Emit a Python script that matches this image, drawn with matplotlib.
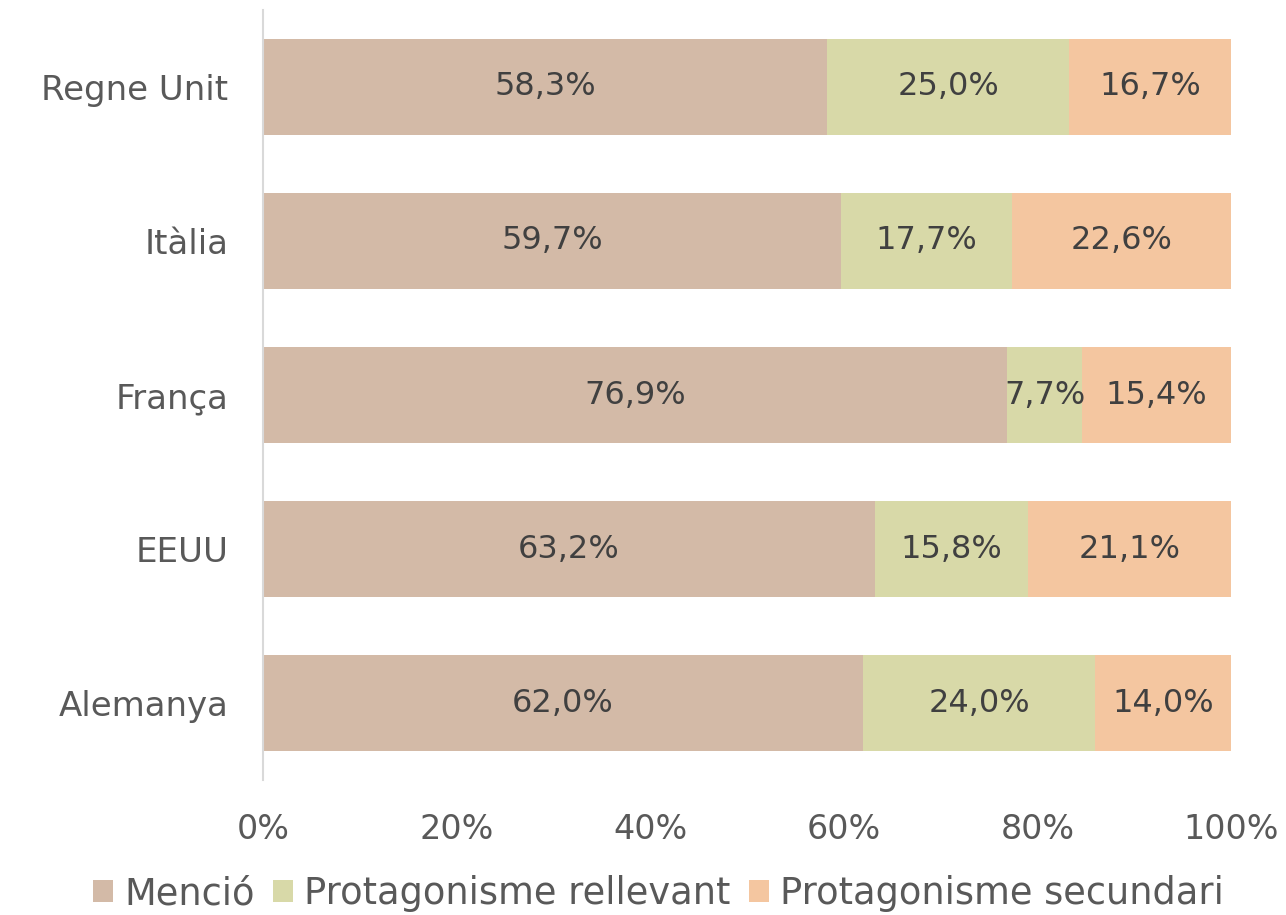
import matplotlib
matplotlib.use("Agg")
import matplotlib.pyplot as plt
from matplotlib.ticker import FuncFormatter

categories = ["Regne Unit", "Itàlia", "França", "EEUU", "Alemanya"]
mencio = [58.3, 59.7, 76.9, 63.2, 62.0]
rellevant = [25.0, 17.7, 7.7, 15.8, 24.0]
secundari = [16.7, 22.6, 15.4, 21.1, 14.0]
series_names = ["Menció", "Protagonisme rellevant", "Protagonisme secundari"]
colors = ["#D3BAA7", "#D8D9A8", "#F4C6A0"]

plt.rcParams['font.family'] = ['DejaVu Sans']

fig = plt.figure(figsize=(12.86, 9.15), dpi=100)
ax = fig.add_axes([0.2045, 0.1475, 0.9572 - 0.2045, 0.9891 - 0.1475])

ypos = list(range(len(categories)))
left = [0.0] * len(categories)
for vals, name, col in zip([mencio, rellevant, secundari], series_names, colors):
    bars = ax.barh(ypos, vals, left=left, height=0.62, color=col, label=name)
    for b, v, l in zip(bars, vals, left):
        ax.text(l + v / 2, b.get_y() + b.get_height() / 2, f"{v:.1f}%".replace(".", ","),
                ha="center", va="center", fontsize=23, color="#404040")
    left = [a + b for a, b in zip(left, vals)]

ax.set_xlim(0, 100)
ax.set_ylim(len(categories) - 0.5, -0.5)
ax.set_yticks(ypos)
ax.set_yticklabels(categories, fontsize=24.5, color="#595959")
ax.set_xticks([0, 20, 40, 60, 80, 100])
ax.xaxis.set_major_formatter(FuncFormatter(lambda x, p: f"{int(x)}%"))
ax.tick_params(axis="x", labelsize=24, labelcolor="#595959", length=0, pad=24)
ax.tick_params(axis="y", length=0, pad=25)
for s in ["top", "right", "bottom"]:
    ax.spines[s].set_visible(False)
ax.spines["left"].set_color("#D9D9D9")
ax.spines["left"].set_linewidth(1.5)

leg = fig.legend(loc="lower center", bbox_to_anchor=(0.512, -0.033), ncol=3, frameon=False,
                 fontsize=26.5, labelcolor="#595959", handlelength=0.55, handleheight=0.55,
                 handletextpad=0.3, columnspacing=0.5)

fig.savefig("out.png", dpi=100)
